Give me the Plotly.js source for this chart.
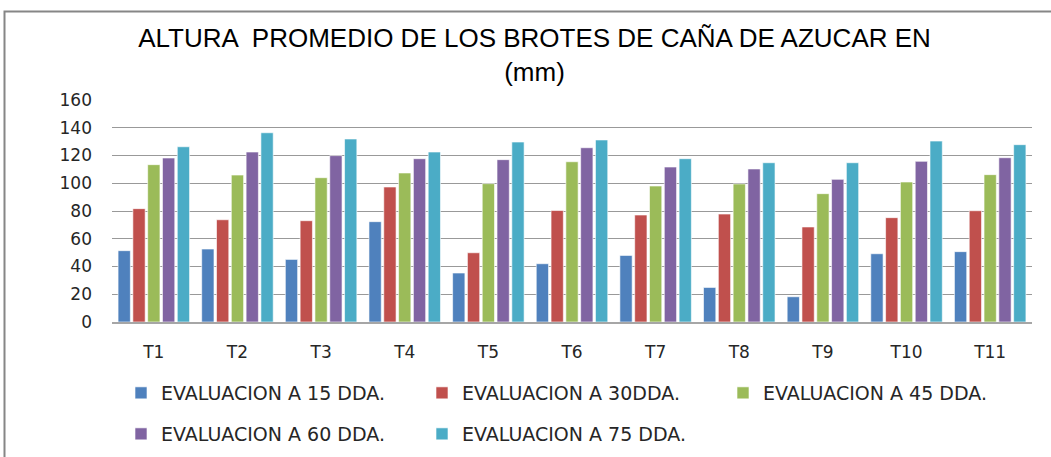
<!DOCTYPE html>
<html>
<head>
<meta charset="utf-8">
<script src="https://cdn.plot.ly/plotly-3.0.1.min.js"></script>
<style>html,body{margin:0;padding:0;background:#fff;}#chart{width:1051px;height:457px;}</style>
</head>
<body>
<div id="chart"></div>
<script>
const categories = ["T1","T2","T3","T4","T5","T6","T7","T8","T9","T10","T11"];
const seriesNames = ["EVALUACION A 15 DDA.","EVALUACION A 30DDA.","EVALUACION A 45 DDA.","EVALUACION A 60 DDA.","EVALUACION A 75 DDA."];
const eval15 = [51.4, 52.6, 45.1, 72.3, 35.3, 42.0, 48.0, 24.9, 18.2, 49.2, 50.7];
const eval30 = [81.7, 73.7, 73.0, 97.3, 49.9, 80.4, 77.1, 77.8, 68.5, 75.2, 80.2];
const eval45 = [113.4, 105.9, 104.0, 107.4, 99.7, 115.5, 98.0, 99.5, 92.5, 100.9, 106.2];
const eval60 = [118.2, 122.5, 119.9, 117.7, 117.0, 125.6, 111.7, 110.3, 102.8, 115.8, 118.4];
const eval75 = [126.3, 136.4, 131.9, 122.5, 129.7, 131.2, 117.7, 114.8, 114.8, 130.4, 127.8];
const colors = ["#4F81BD","#C0504D","#9BBB59","#8064A2","#4BACC6"];
const allSeries = [eval15, eval30, eval45, eval60, eval75];
const legendOf = ["legend","legend","legend","legend2","legend2"];

const traces = allSeries.map((vals, i) => ({
  type: "bar",
  x: categories,
  y: vals,
  name: seriesNames[i],
  legend: legendOf[i],
  marker: {color: colors[i], line: {color: "rgba(255,255,255,0.6)", width: 1}},
  hoverinfo: "x+y+name"
}));

const pxToPaperX = px => (px - 112) / 920;
const pxToPaperY = py => (322 - py) / 222;

const tickColor = "#262626";
const legendFont = {family: "DejaVu Sans, sans-serif", size: 19, color: tickColor};

const layout = {
  width: 1051,
  height: 457,
  margin: {l: 112, r: 19, t: 100, b: 135, autoexpand: false},
  paper_bgcolor: "#ffffff",
  plot_bgcolor: "#ffffff",
  barmode: "group",
  bargap: 0.115,
  bargroupgap: 0.17,
  title: {
    text: "ALTURA  PROMEDIO DE LOS BROTES DE CAÑA DE AZUCAR EN<br>(mm)",
    font: {family: "Liberation Sans, Arial, sans-serif", size: 26, color: "#000000"},
    x: 534.5 / 1051,
    xanchor: "center",
    y: 1 - 47 / 457,
    yanchor: "top"
  },
  xaxis: {
    type: "category",
    showgrid: false,
    showline: true,
    linecolor: "#a6a6a6",
    linewidth: 2,
    ticks: "",
    ticklabelstandoff: 14,
    tickfont: {family: "DejaVu Sans, sans-serif", size: 17, color: tickColor},
    zeroline: false
  },
  yaxis: {
    range: [0, 160],
    dtick: 20,
    showgrid: true,
    gridcolor: "#999999",
    gridwidth: 1,
    zeroline: false,
    showline: false,
    ticks: "",
    ticklabelstandoff: 19,
    tickfont: {family: "DejaVu Sans, sans-serif", size: 17, color: tickColor}
  },
  showlegend: true,
  legend: {
    orientation: "h",
    x: pxToPaperX(121), xanchor: "left",
    y: pxToPaperY(393), yanchor: "middle",
    entrywidth: 256, entrywidthmode: "pixels",
    font: legendFont,
    bgcolor: "rgba(0,0,0,0)",
    traceorder: "normal"
  },
  legend2: {
    orientation: "h",
    x: pxToPaperX(121), xanchor: "left",
    y: pxToPaperY(434), yanchor: "middle",
    entrywidth: 256, entrywidthmode: "pixels",
    font: legendFont,
    bgcolor: "rgba(0,0,0,0)",
    traceorder: "normal"
  },
  shapes: [{
    type: "rect", xref: "paper", yref: "paper",
    x0: pxToPaperX(4.5), x1: pxToPaperX(1060),
    y0: pxToPaperY(470), y1: pxToPaperY(11.5),
    line: {color: "#868686", width: 2},
    fillcolor: "rgba(0,0,0,0)",
    layer: "below"
  }]
};

Plotly.newPlot("chart", traces, layout, {displayModeBar: false, staticPlot: true});
</script>
</body>
</html>
